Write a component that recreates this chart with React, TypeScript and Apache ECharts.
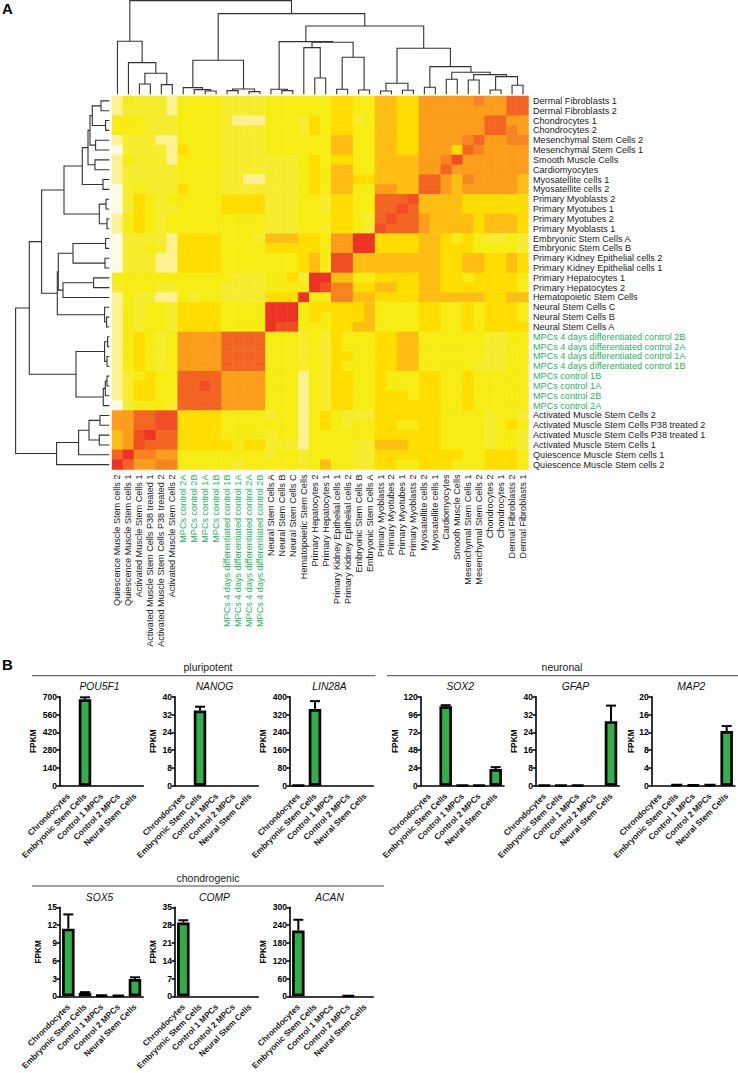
import React, { useEffect, useRef } from "react";
import * as echarts from "echarts";

const FONT = "Liberation Sans";

const ROW_LABELS = [
  "Dermal Fibroblasts 1", "Dermal Fibroblasts 2", "Chondrocytes 1", "Chondrocytes 2",
  "Mesenchymal Stem Cells 2", "Mesenchymal Stem Cells 1", "Smooth Muscle Cells", "Cardiomyocytes",
  "Myosatellite cells 1", "Myosatellite cells 2", "Primary Myoblasts 2", "Primary Myotubes 1",
  "Primary Myotubes 2", "Primary Myoblasts 1", "Embryonic Stem Cells A", "Embryonic Stem Cells B",
  "Primary Kidney Epithelial cells 2", "Primary Kidney Epithelial cells 1", "Primary Hepatocytes 1", "Primary Hepatocytes 2",
  "Hematopoietic Stem Cells", "Neural Stem Cells C", "Neural Stem Cells B", "Neural Stem Cells A",
  "MPCs 4 days differentiated control 2B", "MPCs 4 days differentiated control 2A", "MPCs 4 days differentiated control 1A", "MPCs 4 days differentiated control 1B",
  "MPCs control 1B", "MPCs control 1A", "MPCs control 2B", "MPCs control 2A",
  "Activated Muscle Stem Cells 2", "Activated Muscle Stem Cells P38 treated 2", "Activated Muscle Stem Cells P38 treated 1", "Activated Muscle Stem Cells 1",
  "Quiescence Muscle Stem cells 1", "Quiescence Muscle Stem cells 2",
];

const COLUMN_LABELS = [
  "Quiescence Muscle Stem cells 2", "Quiescence Muscle Stem cells 1", "Activated Muscle Stem Cells 1", "Activated Muscle Stem Cells P38 treated 1",
  "Activated Muscle Stem Cells P38 treated 2", "Activated Muscle Stem Cells 2", "MPCs control 2A", "MPCs control 2B",
  "MPCs control 1A", "MPCs control 1B", "MPCs 4 days differentiated control 1B", "MPCs 4 days differentiated control 1A",
  "MPCs 4 days differentiated control 2A", "MPCs 4 days differentiated control 2B", "Neural Stem Cells A", "Neural Stem Cells B",
  "Neural Stem Cells C", "Hematopoietic Stem Cells", "Primary Hepatocytes 2", "Primary Hepatocytes 1",
  "Primary Kidney Epithelial cells 1", "Primary Kidney Epithelial cells 2", "Embryonic Stem Cells B", "Embryonic Stem Cells A",
  "Primary Myoblasts 1", "Primary Myotubes 2", "Primary Myotubes 1", "Primary Myoblasts 2",
  "Myosatellite cells 2", "Myosatellite cells 1", "Cardiomyocytes", "Smooth Muscle Cells",
  "Mesenchymal Stem Cells 1", "Mesenchymal Stem Cells 2", "Chondrocytes 2", "Chondrocytes 1",
  "Dermal Fibroblasts 2", "Dermal Fibroblasts 1",
];

// One string per row, one character per column: the colour step (A = 10).
const HEAT_ROWS = [
  "132221 33332222 33333 34433 554466 66676688",
  "122221 33332222 33333 34433 554466 66666688",
  "333222 33332111 33324 34423 554466 66668866",
  "333222 33332222 33324 34433 554466 66668876",
  "122211 33332222 33333 35533 554466 66786677",
  "022221 43332222 33333 35533 554466 64876666",
  "132221 33332222 22234 34433 555566 79666666",
  "122222 33332222 22234 35533 555566 86666666",
  "122222 33332211 22234 35544 555588 65766665",
  "023222 43332222 22234 35533 665588 65666665",
  "024323 33334444 22233 24433 888955 55444444",
  "024322 33334444 22233 24433 889855 55444444",
  "134323 33333333 22233 34432 898865 55545554",
  "134323 33333333 22233 24432 988865 55545554",
  "022221 44443332 55544 366AA 444455 43432232",
  "022321 44443333 44444 366AA 444455 44433332",
  "022211 44443333 33345 39955 555555 44554454",
  "022211 44443333 33345 39955 555555 44554454",
  "333333 33333222 3342A A5533 444455 44344443",
  "233322 33332222 3333A 97744 554455 44444443",
  "132211 32332222 444A3 37755 444455 55554455",
  "132332 44443333 AAA34 44445 333344 33434443",
  "132332 44443333 AAA34 34445 333344 33434443",
  "132332 44443333 A9933 34455 333344 33434444",
  "134323 66668888 33323 24333 445533 33332233",
  "134323 66668888 33323 24333 445533 33332233",
  "134323 66668888 33323 24433 445533 33332233",
  "134323 66668888 33323 24333 445533 33322233",
  "123433 88886666 33313 24433 433344 33433333",
  "124433 88986666 33313 24433 433344 33433333",
  "124433 88886666 33313 24433 444344 33433333",
  "023332 88886666 33313 24433 444444 33433333",
  "668899 44443333 23313 43222 444444 33332332",
  "668899 44443333 33313 43233 443344 33332343",
  "569A88 44443333 23313 33333 444444 33332332",
  "569888 44444344 22213 33322 555444 33332332",
  "8A7766 33333333 23323 33322 444444 44334443",
  "A86677 33333233 33323 53322 443344 43334443",
];

const HEAT_COLORS = [
  "#FFFBE0", "#FDF28F", "#F8EC2F", "#F7EC13", "#FFDD00", "#FFBE14",
  "#FC9D1B", "#F7851F", "#F46523", "#F14E26", "#EF3226",
];

// Dendrogram merges: [a, b, height]. Below 100 = leaf index, 100 + k = result of merge k.
const TOP_MERGES: number[][] = [
  [2, 3, 10.3], [4, 5, 9.7], [100, 101, 21], [1, 102, 31.7], [0, 103, 53],
  [8, 9, 3.3], [7, 105, 4.7], [6, 106, 6.7], [10, 11, 3.7], [12, 13, 2.7],
  [108, 109, 5.3], [107, 110, 34], [15, 16, 3.7], [14, 112, 5], [18, 19, 16.3],
  [17, 114, 46.7], [20, 21, 5], [22, 23, 4.3], [116, 117, 37], [115, 118, 52],
  [113, 119, 52.7], [24, 25, 3.3], [26, 27, 4], [121, 122, 11], [28, 29, 7],
  [30, 31, 15], [32, 33, 14.3], [34, 35, 4.3], [36, 37, 9], [127, 128, 17.7],
  [126, 129, 19.7], [125, 130, 22], [124, 131, 27.7], [123, 132, 46], [120, 133, 68.3],
  [111, 134, 80.7], [104, 135, 93.7],
];

const LEFT_MERGES: number[][] = [
  [0, 1, 8.3], [2, 3, 3.7], [100, 101, 17], [4, 5, 13.7], [102, 103, 19.3],
  [6, 7, 14.3], [104, 105, 21.3], [8, 9, 6.3], [106, 107, 27], [10, 11, 3.3],
  [12, 13, 2.3], [109, 110, 10], [108, 111, 45.3], [14, 15, 3.7], [16, 17, 4.3],
  [113, 114, 36.3], [18, 19, 15.7], [116, 20, 46.3], [115, 117, 51], [22, 23, 2.7],
  [21, 119, 4.7], [118, 120, 52], [112, 121, 67.7], [24, 25, 1.7], [26, 27, 2.3],
  [123, 124, 4.7], [28, 29, 2.3], [126, 30, 4], [127, 31, 6], [125, 128, 33.3],
  [122, 129, 80], [32, 33, 9.3], [34, 35, 10], [131, 132, 20.3], [133, 36, 30.7],
  [134, 37, 52.7], [130, 135, 93.7],
];

const BAR_CATEGORIES = ["Chrondocytes", "Embryonic Stem Cells", "Control 1 MPCs", "Control 2 MPCs", "Neural Stem Cells"];

// Bar value and top of the error bar, per gene.
const POU5F1_VALUES = [0, 680, 0, 0, 0];
const POU5F1_TOPS = [0, 695, 0, 0, 0];
const NANOG_VALUES = [0, 33.8, 0, 0, 0];
const NANOG_TOPS = [0, 35.5, 0, 0, 0];
const LIN28A_VALUES = [2, 345, 0, 0, 0];
const LIN28A_TOPS = [0, 380, 0, 0, 0];
const SOX2_VALUES = [0, 107, 0.5, 0.5, 22.5];
const SOX2_TOPS = [0, 108.5, 0, 0, 25];
const GFAP_VALUES = [0.2, 0.2, 0.2, 0, 29];
const GFAP_TOPS = [0, 0, 0, 0, 36];
const MAP2_VALUES = [0, 0.3, 0.15, 0.3, 12.3];
const MAP2_TOPS = [0, 0, 0, 0, 13.4];
const SOX5_VALUES = [11.4, 0.6, 0.2, 0.15, 2.9];
const SOX5_TOPS = [13.8, 0.7, 0, 0, 3.2];
const COMP_VALUES = [29, 0, 0, 0, 0];
const COMP_TOPS = [29.9, 0, 0, 0, 0];
const ACAN_VALUES = [222, 0, 0, 2, 0];
const ACAN_TOPS = [258, 0, 0, 0, 0];

const PANELS = [
  { gene: "POU5F1", values: POU5F1_VALUES, tops: POU5F1_TOPS, max: 700, step: 140, left: 60, top: 696.7, gap: 23 },
  { gene: "NANOG", values: NANOG_VALUES, tops: NANOG_TOPS, max: 40, step: 8, left: 175, top: 696.7, gap: 18 },
  { gene: "LIN28A", values: LIN28A_VALUES, tops: LIN28A_TOPS, max: 400, step: 80, left: 290, top: 696.7, gap: 23 },
  { gene: "SOX2", values: SOX2_VALUES, tops: SOX2_TOPS, max: 120, step: 24, left: 420.7, top: 696.7, gap: 22 },
  { gene: "GFAP", values: GFAP_VALUES, tops: GFAP_TOPS, max: 40, step: 8, left: 536, top: 696.7, gap: 18 },
  { gene: "MAP2", values: MAP2_VALUES, tops: MAP2_TOPS, max: 20, step: 4, left: 651.7, top: 696.7, gap: 17 },
  { gene: "SOX5", values: SOX5_VALUES, tops: SOX5_TOPS, max: 15, step: 3, left: 60, top: 907.3, gap: 18 },
  { gene: "COMP", values: COMP_VALUES, tops: COMP_TOPS, max: 35, step: 7, left: 175, top: 907.3, gap: 18 },
  { gene: "ACAN", values: ACAN_VALUES, tops: ACAN_TOPS, max: 300, step: 60, left: 290, top: 907.3, gap: 23 },
];

const GROUPS = [
  { text: "pluripotent", x: 208, y: 667, x1: 32, x2: 375.5, lineY: 675.7 },
  { text: "neuronal", x: 562, y: 667, x1: 387, x2: 738, lineY: 675.7 },
  { text: "chondrogenic", x: 208, y: 877.5, x1: 32, x2: 384, lineY: 886 },
];

const isGreen = (label: string) => label.startsWith("MPCs");
const labelColor = (value?: string | number) => (isGreen(String(value)) ? "#1FB35F" : "#1a1a1a");

function brackets(merges: number[][]) {
  const pos: number[] = [];
  const hgt: number[] = [];
  const out: number[][] = [];
  const posOf = (n: number) => (n < 100 ? n + 0.5 : pos[n - 100]);
  const hOf = (n: number) => (n < 100 ? 0 : hgt[n - 100]);
  merges.forEach(([a, b, h], i) => {
    pos[i] = (posOf(a) + posOf(b)) / 2;
    hgt[i] = h;
    out.push([posOf(a), posOf(b), hOf(a), hOf(b), h]);
  });
  return out;
}

function buildOption(): any {
  const heatData: number[][] = [];
  HEAT_ROWS.forEach((row, r) => {
    row.replace(/ /g, "").split("").forEach((ch, c) => heatData.push([c, r, parseInt(ch, 16)]));
  });

  const grid: any[] = [
    { left: 112, top: 96, width: 416.5, height: 373.5 },
    { left: 112, top: 0, width: 416.5, height: 94.3 },
    { left: 0, top: 96, width: 109.3, height: 373.5 },
  ];
  const xAxis: any[] = [
    {
      gridIndex: 0, type: "category", data: COLUMN_LABELS, position: "bottom",
      axisLine: { show: false }, axisTick: { show: false }, splitLine: { show: false },
      axisLabel: { interval: 0, rotate: 90, fontSize: 9.1, fontFamily: FONT, margin: 5, color: labelColor },
    },
    { gridIndex: 1, type: "value", min: 0, max: 38, show: false },
    { gridIndex: 2, type: "value", min: 0, max: 109.3, inverse: true, show: false },
  ];
  const yAxis: any[] = [
    {
      gridIndex: 0, type: "category", data: ROW_LABELS, inverse: true, position: "right",
      axisLine: { show: false }, axisTick: { show: false }, splitLine: { show: false },
      axisLabel: { interval: 0, fontSize: 9.1, fontFamily: FONT, margin: 4.5, color: labelColor },
    },
    { gridIndex: 1, type: "value", min: 0, max: 94.3, show: false },
    { gridIndex: 2, type: "value", min: 0, max: 38, inverse: true, show: false },
  ];

  const drawBracket = (horizontalLeaves: boolean) => (_p: any, api: any) => {
    const a = api.value(0), b = api.value(1), ha = api.value(2), hb = api.value(3), h = api.value(4);
    const raw = [[a, ha], [a, h], [b, h], [b, hb]];
    const points = raw.map(([leaf, height]) => api.coord(horizontalLeaves ? [leaf, height] : [height, leaf]));
    return {
      type: "polyline",
      shape: { points },
      style: { stroke: "#333", fill: "none", lineWidth: 1.1 },
    };
  };

  const series: any[] = [
    {
      type: "heatmap", xAxisIndex: 0, yAxisIndex: 0, data: heatData, silent: true,
      itemStyle: { borderWidth: 0 }, progressive: 0,
    },
    {
      type: "custom", xAxisIndex: 1, yAxisIndex: 1, coordinateSystem: "cartesian2d", silent: true, clip: false,
      data: brackets(TOP_MERGES), renderItem: drawBracket(true),
    },
    {
      type: "custom", xAxisIndex: 2, yAxisIndex: 2, coordinateSystem: "cartesian2d", silent: true, clip: false,
      data: brackets(LEFT_MERGES), renderItem: drawBracket(false),
    },
  ];

  const title: any[] = [];
  PANELS.forEach((p, i) => {
    const g = i + 3;
    grid.push({ left: p.left, top: p.top, width: 83.3, height: 89 });
    xAxis.push({
      gridIndex: g, type: "category", data: BAR_CATEGORIES,
      axisLine: { lineStyle: { color: "#000", width: 1.6 } },
      axisTick: { alignWithLabel: true, length: 3.5, lineStyle: { color: "#000", width: 1.5 } },
      splitLine: { show: false },
      axisLabel: { interval: 0, rotate: 45, fontSize: 8.3, fontWeight: "bold", fontFamily: FONT, color: "#1a1a1a", margin: 9 },
    });
    yAxis.push({
      gridIndex: g, type: "value", min: 0, max: p.max, interval: p.step,
      name: "FPKM", nameLocation: "middle", nameGap: p.gap,
      nameTextStyle: { fontSize: 8.3, fontWeight: "bold", fontFamily: FONT, color: "#000" },
      axisLine: { show: true, lineStyle: { color: "#000", width: 1.6 } },
      axisTick: { show: true, length: 3.5, lineStyle: { color: "#000", width: 1.5 } },
      splitLine: { show: false },
      axisLabel: { fontSize: 8.5, fontWeight: "bold", fontFamily: FONT, color: "#000", margin: 3 },
    });
    series.push({
      type: "bar", xAxisIndex: g, yAxisIndex: g, data: p.values.map((v) => (v === 0 ? null : v)), barWidth: 12.5, silent: true,
      itemStyle: { color: "#2FB04A", borderColor: "#000", borderWidth: 2.7 },
    });
    series.push({
      type: "custom", xAxisIndex: g, yAxisIndex: g, coordinateSystem: "cartesian2d", silent: true, clip: false,
      data: p.values.map((v, k) => [k, v, p.tops[k]]).filter((d) => d[2] > 0),
      renderItem: (_q: any, api: any) => {
        const x = api.value(0);
        const base = api.coord([x, api.value(1)]);
        const top = api.coord([x, api.value(2)]);
        const style = { stroke: "#000", lineWidth: 2, fill: "none" };
        return {
          type: "group",
          children: [
            { type: "line", shape: { x1: base[0], y1: base[1], x2: top[0], y2: top[1] }, style },
            { type: "line", shape: { x1: top[0] - 5, y1: top[1], x2: top[0] + 5, y2: top[1] }, style },
          ],
        };
      },
    });
    title.push({
      text: p.gene, left: p.left + 39.5, top: p.top - 15, textAlign: "center", padding: 0,
      textStyle: { fontSize: 10.3, fontStyle: "italic", fontWeight: "normal", fontFamily: FONT, color: "#111" },
    });
  });

  const graphic: any[] = [
    { type: "text", left: 2, top: 1, style: { text: "A", font: `bold 15px "${FONT}"`, fill: "#000" } },
    { type: "text", left: 2, top: 657, style: { text: "B", font: `bold 15px "${FONT}"`, fill: "#000" } },
  ];
  GROUPS.forEach((g) => {
    graphic.push({
      type: "text", x: g.x, y: g.y,
      style: { text: g.text, font: `10.5px "${FONT}"`, fill: "#222", align: "center", verticalAlign: "middle" },
    });
    graphic.push({
      type: "line", shape: { x1: g.x1, y1: g.lineY, x2: g.x2, y2: g.lineY },
      style: { stroke: "#444", lineWidth: 1 },
    });
  });

  return {
    animation: false,
    backgroundColor: "#fff",
    textStyle: { fontFamily: FONT },
    tooltip: { show: false },
    visualMap: {
      show: false, type: "piecewise", seriesIndex: 0, dimension: 2,
      pieces: HEAT_COLORS.map((color, value) => ({ value, color })),
    },
    grid, xAxis, yAxis, series, title, graphic,
  };
}

export default function App() {
  const ref = useRef<HTMLDivElement>(null);
  useEffect(() => {
    document.body.style.margin = "0";
    const chart = echarts.init(ref.current!, undefined, { renderer: "svg" });
    chart.setOption(buildOption());
    return () => chart.dispose();
  }, []);
  return <div ref={ref} style={{ position: "absolute", left: 0, top: 0, width: 738, height: 1073 }} />;
}
